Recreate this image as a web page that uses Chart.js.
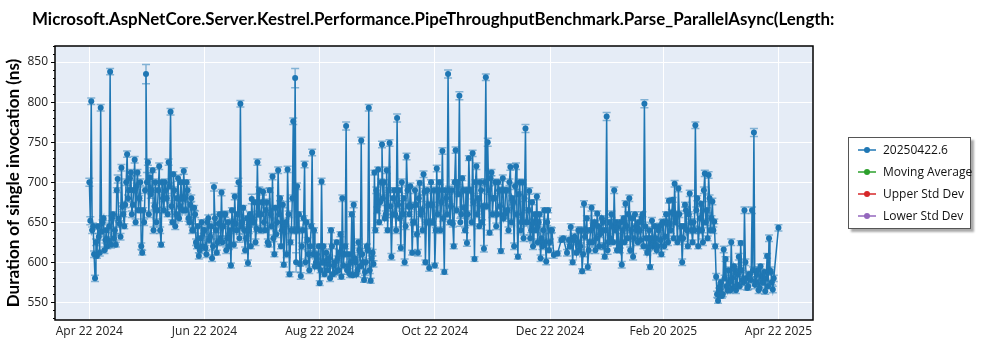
<!DOCTYPE html>
<html>
<head>
<meta charset="utf-8">
<script src="https://cdn.jsdelivr.net/npm/chart.js@4.4.1/dist/chart.umd.min.js"></script>
<style>
    body { margin: 0; background: #fff; }
    #wrap { position: relative; width: 1000px; height: 350px; }
    #chart { position: absolute; left: 0; top: 0; }
    #title { position: absolute; left: 32px; top: 8px; font: bold 16.9px Lato, sans-serif; color: #000; white-space: nowrap; }
    #legend { position: absolute; left: 848px; top: 137px; width: 121px; height: 90px; background: #fff;
              border: 1px solid #555; box-shadow: 3px 3px 2px #aaa; font: 12px 'Open Sans', sans-serif; color: #111; }
    .item { position: absolute; left: 9px; height: 18px; line-height: 18px; white-space: nowrap; }
    .swatch { position: absolute; left: 0; top: 8px; width: 18px; height: 2px; opacity: 0.75; }
    .dot { position: absolute; left: 6px; top: 6px; width: 6px; height: 6px; border-radius: 3px; }
    .label { position: absolute; left: 25px; top: 0; }
</style>
</head>
<body>
<div id="wrap">
    <canvas id="chart" width="1000" height="350"></canvas>
    <div id="title">Microsoft.AspNetCore.Server.Kestrel.Performance.PipeThroughputBenchmark.Parse_ParallelAsync(Length:</div>
    <div id="legend"></div>
</div>
<script>
// day offsets from Apr 22 2024; two runs a day (null = no run)
var startDay = 0;
var durations = [
    700, 801, 645, 580, 608, 632, 793, 650, 615, 640,
    628, 838, 655, 630, 622, 704, 648, 718, 660, 672,
    735, 690, 712, 672, 728, 695, 665, 700, 612, 650,
    835, 725, 706, 690, 640, 700, 665, 720, 622, 680,
    700, 680, 725, 788, 650, 690, 660, 705, 670, 680,
    714, 665, 690, 650, 680, 640, 660, 620, 608, 630,
    620, 640, 610, 655, 632, 605, 694, 640, 625, 660,
    687, 645, 660, 630, 620, 596, 650, 682, 640, 700,
    798, 650, 640, 630, 599, 660, 679, 650, 625, 725,
    690, 660, 688, 640, 675, 622, 660, 707, 610, 635,
    715, 680, 640, 597, 650, 716, 585, 640, 776, 830,
    695, 660, 583, 640, 722, 650, 610, 620, 737, 640,
    600, 595, 574, 701, 620, 600, 590, 605, 640, 585,
    600, 625, 590, 635, 680, 610, 770, 595, 585, 660,
    672, 600, 590, 615, 752, 600, 588, 620, 793, 577,
    612, 712, 690, 716, 675, 747, 700, 660, 640, 749,
    607, 680, 660, 780, 690, 618, 660, 600, 732, 670,
    695, 612, 650, 672, 612, 699, 665, 710, 600, 690,
    593, 700, 650, 596, 717, 690, 640, 739, 588, 680,
    835, 650, 690, 620, 740, 700, 808, 660, 690, 640,
    624, 730, 690, 736, 604, 720, 680, 700, 650, 617,
    831, 750, 637, 712, 680, 700, 660, 690, 614, 705,
    660, 690, 640, 719, 680, 620, 720, 607, 700, 650,
    630, 767, 650, 689, 640, 620, 660, 682, 650, 605,
    620, 665, 601, 665, 625, 640, 609, null, 611, null,
    628, 630, null, 612, 628, 644, 600, 632, 612, 640,
    620, 589, 673, 640, 594, 625, 668, 646, 615, 661,
    620, 640, 650, 607, 782, 625, 630, 645, 690, 650,
    644, 615, 597, 655, 673, 630, 680, 640, 607, 660,
    640, 650, 628, 660, 798, 630, 618, 594, 652, 625,
    630, 620, 645, 610, 650, 632, 650, 677, 640, 678,
    698, 660, 692, 630, 600, 645, 665, 620, 686, 640,
    650, 771, 680, 640, 673, 625, 711, 665, 709, 640,
    676, 651, 582, 552, 570, 558, 616, 604, 565, 575,
    625, 568, 590, 572, 607, 624, 578, 665, 580, 570,
    585, 665, 762, 575, 590, 568, 582, 575, 564, 608,
    630, 588, 566, null, null, 643
];
// second run of the same day
var durationsLate = [
    652, 640, 610, 625, 645, 612, 638, 655, 628, 620,
    645, 622, 660, 640, 690, 655, 632, 670, 645, 700,
    680, 705, 660, 690, 650, 712, 680, 620, 665, 690,
    700, 660, 685, 715, 670, 650, 690, 640, 700, 665,
    690, 660, 695, 670, 710, 645, 680, 655, 700, 665,
    680, 700, 655, 672, 640, 668, 625, 645, 615, 650,
    640, 618, 650, 628, 645, 620, 655, 612, 648, 630,
    625, 660, 615, 650, 640, 665, 622, 648, 660, 630,
    645, 668, 615, 655, 640, 620, 650, 675, 642, 660,
    640, 675, 650, 665, 625, 690, 645, 630, 668, 650,
    660, 620, 672, 645, 610, 660, 625, 680, 640, 600,
    640, 598, 620, 655, 600, 628, 590, 645, 610, 595,
    610, 620, 590, 600, 585, 612, 598, 580, 620, 596,
    588, 605, 612, 582, 596, 620, 590, 610, 600, 584,
    605, 585, 625, 595, 610, 578, 600, 615, 590, 605,
    598, 640, 665, 650, 700, 680, 655, 715, 690, 670,
    660, 690, 640, 672, 655, 700, 680, 645, 690, 660,
    670, 650, 690, 635, 680, 660, 640, 688, 650, 672,
    650, 672, 690, 640, 660, 700, 675, 655, 690, 660,
    690, 670, 648, 700, 665, 685, 650, 705, 668, 690,
    660, 690, 650, 675, 700, 660, 645, 690, 670, 700,
    670, 690, 705, 660, 680, 645, 700, 670, 690, 655,
    690, 665, 700, 650, 675, 695, 660, 685, 640, 700,
    680, 650, 665, 630, 675, 650, 640, 625, 660, 630,
    640, 625, 650, 615, 640, null, null, null, null, null,
    null, null, null, null, 620, null, 628, null, 625, 615,
    640, 610, 632, 655, 615, 640, 625, 650, 630, 645,
    635, 655, 620, 640, 615, 650, 660, 625, 640, 615,
    620, 650, 640, 625, 645, 660, 615, 655, 630, 645,
    625, 640, 655, 620, 645, 612, 640, 630, 620, 645,
    615, 640, 628, 650, 620, 660, 625, 648, 662, 630,
    650, 625, 660, 645, 630, 672, 640, 660, 650, 625,
    640, 665, 620, 655, 640, 690, 650, 630, 680, 655,
    640, 620, 560, 565, 575, 560, 580, 570, 590, 565,
    580, 595, 565, 585, 570, 590, 575, 600, 568, 585,
    578, 590, 572, 585, 565, 595, 575, 588, 580, 570,
    590, 575, 580, null, null, null
];
// half width of each day's error bars (ns)
var errors = [
    5, 4, 4, 4, 3, 4, 4, 3, 4, 3,
    4, 4, 3, 4, 3, 5, 4, 4, 3, 4,
    4, 3, 4, 3, 4, 4, 3, 4, 3, 4,
    12, 4, 5, 3, 4, 4, 3, 4, 3, 4,
    4, 3, 4, 4, 3, 4, 3, 4, 3, 4,
    4, 3, 4, 3, 4, 3, 4, 3, 4, 3,
    4, 3, 4, 4, 3, 4, 5, 3, 4, 3,
    4, 3, 4, 3, 4, 3, 4, 4, 3, 5,
    4, 3, 4, 3, 4, 3, 6, 3, 4, 4,
    4, 3, 4, 3, 4, 3, 4, 4, 3, 4,
    4, 3, 4, 3, 4, 4, 3, 4, 4, 12,
    4, 3, 4, 3, 4, 3, 4, 3, 4, 3,
    4, 3, 3, 4, 3, 4, 3, 4, 3, 3,
    4, 3, 4, 3, 4, 3, 5, 3, 4, 3,
    4, 3, 4, 3, 4, 3, 4, 3, 4, 3,
    4, 3, 4, 3, 4, 4, 3, 4, 3, 4,
    4, 3, 4, 5, 3, 4, 3, 4, 4, 3,
    4, 3, 4, 3, 4, 3, 4, 4, 3, 4,
    4, 3, 4, 3, 4, 3, 4, 4, 3, 4,
    5, 3, 4, 3, 4, 3, 5, 3, 4, 3,
    4, 3, 4, 4, 3, 4, 3, 4, 3, 4,
    4, 5, 3, 4, 3, 4, 3, 4, 3, 4,
    4, 3, 4, 4, 3, 4, 4, 3, 4, 3,
    4, 5, 3, 4, 3, 4, 3, 4, 3, 4,
    4, 3, 4, 3, 4, 3, 4, 0, 3, 0,
    3, 3, 0, 4, 3, 4, 3, 4, 3, 4,
    4, 3, 4, 3, 4, 3, 4, 3, 4, 3,
    4, 3, 4, 3, 5, 3, 4, 3, 4, 3,
    4, 3, 4, 3, 4, 3, 4, 3, 4, 3,
    4, 3, 4, 3, 5, 3, 4, 3, 4, 3,
    4, 3, 4, 3, 4, 3, 4, 3, 4, 3,
    4, 3, 4, 3, 4, 3, 4, 3, 4, 3,
    4, 4, 3, 4, 3, 4, 4, 3, 4, 3,
    4, 3, 4, 3, 4, 3, 4, 3, 4, 3,
    4, 3, 4, 3, 4, 3, 4, 4, 3, 4,
    3, 4, 5, 3, 4, 3, 4, 3, 4, 3,
    4, 3, 4, 0, 0, 4
];
var tickDays = [0, 61, 122, 183, 244, 304, 365];
var tickLabels = ['Apr 22 2024', 'Jun 22 2024', 'Aug 22 2024', 'Oct 22 2024', 'Dec 22 2024', 'Feb 20 2025', 'Apr 22 2025'];
var yTicks = [550, 600, 650, 700, 750, 800, 850];
var seriesNames = ['20250422.6', 'Moving Average', 'Upper Std Dev', 'Lower Std Dev'];
var seriesColors = ['#1f77b4', '#2ca02c', '#d62728', '#9467bd'];

var points = [];
durations.forEach(function (v, i) {
    if (v !== null) {
        points.push({ x: startDay + i, y: v, err: errors[i] });
    }
    if (durationsLate[i] !== null) {
        points.push({ x: startDay + i + 0.5, y: durationsLate[i], err: errors[i] });
    }
});

var plotBackground = {
    id: 'plotBackground',
    beforeDraw: function (chart) {
        var a = chart.chartArea, ctx = chart.ctx;
        ctx.save();
        ctx.fillStyle = '#e5ecf6';
        ctx.fillRect(a.left, a.top, a.right - a.left, a.bottom - a.top);
        ctx.restore();
    },
    afterDraw: function (chart) {
        var a = chart.chartArea, ctx = chart.ctx, y = chart.scales.y;
        ctx.save();
        ctx.strokeStyle = '#000';
        ctx.lineWidth = 1.5;
        ctx.strokeRect(a.left, a.top, a.right - a.left, a.bottom - a.top);
        // minor ticks on the y axis
        ctx.lineWidth = 1;
        ctx.beginPath();
        for (var v = 530; v <= 870; v += 10) {
            var py = Math.round(y.getPixelForValue(v)) + 0.5;
            ctx.moveTo(a.left - 2, py);
            ctx.lineTo(a.left, py);
        }
        ctx.stroke();
        ctx.restore();
    }
};

var errorBars = {
    id: 'errorBars',
    afterDatasetsDraw: function (chart) {
        var ctx = chart.ctx, x = chart.scales.x, y = chart.scales.y, a = chart.chartArea;
        ctx.save();
        ctx.beginPath();
        ctx.rect(a.left, a.top, a.right - a.left, a.bottom - a.top);
        ctx.clip();
        ctx.strokeStyle = 'rgba(31,119,180,0.5)';
        ctx.lineWidth = 1.5;
        points.forEach(function (p) {
            var px = x.getPixelForValue(p.x);
            var top = y.getPixelForValue(p.y + p.err);
            var bot = y.getPixelForValue(p.y - p.err);
            ctx.beginPath();
            ctx.moveTo(px, top);
            ctx.lineTo(px, bot);
            ctx.moveTo(px - 4, top);
            ctx.lineTo(px + 4, top);
            ctx.moveTo(px - 4, bot);
            ctx.lineTo(px + 4, bot);
            ctx.stroke();
        });
        ctx.restore();
    }
};

Chart.defaults.font.family = "'Open Sans', sans-serif";
Chart.defaults.font.size = 12;
Chart.defaults.color = '#222';

var datasets = seriesNames.map(function (name, i) {
    return {
        label: name,
        data: i === 0 ? points : [],
        borderColor: seriesColors[i],
        backgroundColor: seriesColors[i],
        borderWidth: 1.5,
        pointRadius: 3,
        pointBorderWidth: 0,
        pointHoverRadius: 3,
        tension: 0
    };
});

var chart = new Chart(document.getElementById('chart'), {
    type: 'line',
    data: { datasets: datasets },
    options: {
        responsive: false,
        animation: false,
        events: [],
        layout: { padding: { left: 0, right: 187, top: 46, bottom: 0 } },
        plugins: {
            legend: { display: false },
            tooltip: { enabled: false }
        },
        scales: {
            x: {
                type: 'linear',
                min: -18.2,
                max: 383.3,
                afterBuildTicks: function (scale) {
                    scale.ticks = tickDays.map(function (d) { return { value: d }; });
                },
                afterFit: function (scale) { scale.height = 30; },
                ticks: {
                    autoSkip: false,
                    maxRotation: 0,
                    padding: 4,
                    color: '#222',
                    callback: function (value, index) { return tickLabels[index]; }
                },
                grid: { color: '#fff', lineWidth: 1, drawTicks: false },
                border: { display: false }
            },
            y: {
                min: 528,
                max: 870,
                afterBuildTicks: function (scale) {
                    scale.ticks = yTicks.map(function (v) { return { value: v }; });
                },
                afterFit: function (scale) { scale.width = 55; },
                ticks: { padding: 3, color: '#222' },
                grid: { color: '#fff', lineWidth: 1, drawTicks: true, tickLength: 4, tickColor: '#000' },
                border: { display: false },
                title: {
                    display: true,
                    text: 'Duration of single invocation (ns)',
                    color: '#000',
                    font: { family: 'Lato, sans-serif', size: 17, weight: 'bold' },
                    padding: { top: 3, bottom: 0 }
                }
            }
        }
    },
    plugins: [plotBackground, errorBars]
});

// legend box built from the chart's own datasets
var legend = document.getElementById('legend');
chart.data.datasets.forEach(function (ds, i) {
    var row = document.createElement('div');
    row.className = 'item';
    row.style.top = (3 + i * 22) + 'px';
    row.innerHTML = '<span class="swatch" style="background:' + ds.borderColor + '"></span>' +
        '<span class="dot" style="background:' + ds.borderColor + '"></span>' +
        '<span class="label">' + ds.label + '</span>';
    legend.appendChild(row);
});
</script>
</body>
</html>
